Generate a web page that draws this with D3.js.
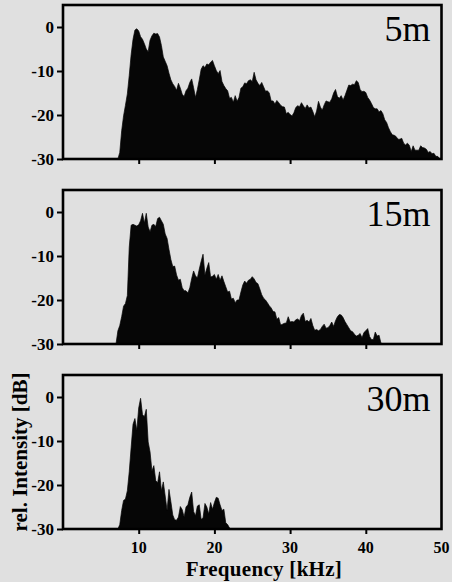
<!DOCTYPE html>
<html><head><meta charset="utf-8">
<script src="https://cdn.jsdelivr.net/npm/d3@7"></script>
<style>
html,body{margin:0;padding:0;background:#e0e0e0;}
svg{display:block;}
</style></head><body>
<svg id="chart" width="452" height="582"></svg>
<script>
// Frequency bins (kHz)
const freqs = [
 7,7.25,7.5,7.75, 8,8.25,8.5,8.75, 9,9.25,9.5,9.75, 10,10.25,10.5,10.75,
 11,11.25,11.5,11.75, 12,12.25,12.5,12.75, 13,13.25,13.5,13.75, 14,14.25,14.5,14.75,
 15,15.25,15.5,15.75, 16,16.25,16.5,16.75, 17,17.25,17.5,17.75, 18,18.25,18.5,18.75,
 19,19.25,19.5,19.75, 20,20.25,20.5,20.75, 21,21.25,21.5,21.75, 22,22.25,22.5,22.75,
 23,23.25,23.5,23.75, 24,24.25,24.5,24.75, 25,25.25,25.5,25.75, 26,26.25,26.5,26.75,
 27,27.25,27.5,27.75, 28,28.25,28.5,28.75, 29,29.25,29.5,29.75, 30,30.25,30.5,30.75,
 31,31.25,31.5,31.75, 32,32.25,32.5,32.75, 33,33.25,33.5,33.75, 34,34.25,34.5,34.75,
 35,35.25,35.5,35.75, 36,36.25,36.5,36.75, 37,37.25,37.5,37.75, 38,38.25,38.5,38.75,
 39,39.25,39.5,39.75, 40,40.25,40.5,40.75, 41,41.25,41.5,41.75, 42,42.25,42.5,42.75,
 43,43.25,43.5,43.75, 44,44.25,44.5,44.75, 45,45.25,45.5,45.75, 46,46.25,46.5,46.75,
 47,47.25,47.5,47.75, 48,48.25,48.5,48.75, 49,49.25,49.5,49.75, 50
];

// rel. intensity (dB) at 5 m
const db5m = [
 -30,-30,-28.5,-23.6, -20.2,-17.8,-15.2,-11.0, -6.3,-2.8,-0.7,-0.4, -0.9,-2.2,-2.8,-3.8,
 -5.0,-5.6,-3.0,-2.0, -1.4,-1.6,-1.5,-2.3, -4.2,-6.8,-7.8,-8.8, -10.5,-12.0,-12.9,-13.5,
 -14.4,-12.8,-13.9,-15.3, -15.8,-14.5,-13.9,-12.6, -11.8,-13.8,-16.0,-14.2, -12.0,-9.6,-8.8,-9.2,
 -8.4,-8.6,-8.0,-7.6, -8.8,-9.9,-10.6,-9.9, -12.4,-13.3,-14.0,-14.5, -16.2,-16.0,-17.1,-15.6,
 -16.9,-16.0,-13.9,-13.6, -12.7,-12.9,-12.2,-12.0, -12.4,-10.3,-12.0,-12.8, -13.3,-12.6,-13.6,-14.6,
 -14.5,-15.0,-16.8,-16.8, -17.5,-16.7,-17.2,-17.8, -18.1,-18.2,-19.7,-19.4, -19.9,-20.2,-19.5,-18.3,
 -17.9,-18.1,-17.2,-17.9, -18.5,-17.7,-18.4,-18.2, -19.2,-20.4,-19.1,-16.9, -18.2,-18.9,-17.7,-16.8,
 -17.0,-17.1,-16.3,-15.0, -14.2,-15.8,-16.2,-15.6, -16.6,-15.6,-14.4,-13.2, -13.3,-13.0,-13.1,-12.2,
 -12.6,-14.2,-14.7,-14.6, -14.9,-16.0,-16.6,-17.4, -18.3,-18.6,-18.6,-19.3, -19.0,-19.7,-21.1,-21.7,
 -22.9,-23.8,-24.5,-24.6, -24.9,-25.5,-25.5,-25.3, -26.4,-26.8,-26.4,-26.9, -28.3,-27.0,-28.0,-28.0,
 -28.0,-27.0,-27.4,-27.5, -27.8,-28.5,-28.3,-28.8, -28.7,-29.4,-29.4,-29.9, -30
];

// rel. intensity (dB) at 15 m
const db15m = [
 -30,-27.0,-25.8,-23.8, -21.4,-20.8,-19.0,-8.0, -3.0,-2.8,-3.0,-3.2, -2.9,-2.0,-0.3,-2.5,
 -0.3,-3.4,-4.5,-3.0, -2.8,-3.3,-1.5,-1.2, -2.0,-2.8,-5.0,-6.0, -8.5,-10.8,-12.4,-12.3,
 -14.3,-15.5,-15.3,-17.2, -17.9,-17.9,-18.4,-17.2, -15.1,-13.4,-14.5,-15.0, -13.0,-11.2,-9.6,-14.3,
 -12.8,-11.5,-14.8,-14.6, -14.2,-15.3,-14.2,-15.5, -14.5,-15.8,-17.0,-18.2, -18.0,-19.8,-19.6,-20.6,
 -20.0,-20.0,-18.2,-16.6, -15.7,-16.2,-15.5,-15.3, -14.7,-15.2,-16.0,-16.3, -17.5,-18.8,-19.6,-20.0,
 -20.6,-21.3,-21.8,-22.6, -22.7,-24.4,-24.0,-25.7, -25.5,-25.3,-25.2,-23.8, -25.0,-24.9,-25.0,-24.5,
 -24.3,-24.7,-23.5,-23.0, -24.9,-24.6,-25.0,-24.2, -25.8,-26.9,-26.7,-27.0, -26.7,-26.0,-25.5,-26.4,
 -26.3,-25.8,-25.0,-26.0, -24.7,-23.8,-23.3,-23.4, -24.0,-24.9,-25.6,-26.3, -27.0,-27.2,-27.8,-28.2,
 -28.0,-27.6,-28.6,-27.4, -27.0,-26.5,-28.3,-29.0, -29.0,-27.3,-28.2,-28.0, -29.8,-30
];

// rel. intensity (dB) at 30 m
const db30m = [
 -30,-30,-29.0,-25.8, -23.5,-23.2,-21.3,-17.0, -11.5,-6.2,-4.9,-7.6, -2.5,-0.3,-4.0,-4.5,
 -2.8,-10.2,-12.5,-16.8, -15.6,-19.0,-19.5,-17.0, -21.3,-19.3,-22.5,-25.8, -21.0,-23.8,-26.8,-27.9,
 -28.0,-27.3,-24.9,-25.6, -27.3,-25.0,-24.5,-22.8, -21.6,-26.0,-27.0,-24.8, -24.5,-27.8,-27.5,-24.2,
 -25.0,-26.6,-24.0,-25.5, -24.0,-22.8,-23.0,-24.5, -25.8,-25.5,-28.6,-29.0, -29.8,-30
];

const panelLabels = ["5m", "15m", "30m"];
const yTickValues = [0, -10, -20, -30];
const xTickValues = [10, 20, 30, 40];
const xTickLabels = [10, 20, 30, 40, 50];
const xTitle = "Frequency [kHz]";
const yTitle = "rel. Intensity [dB]";

const W = 452, H = 582;
const svg = d3.select("#chart");
svg.append("rect").attr("width", W).attr("height", H).attr("fill", "#e0e0e0");

const left = 63, right = 441.5, panelH = 154;
const tops = [5, 190, 375];
const x = d3.scaleLinear().domain([0, 50]).range([left, right]);
const seriesList = [db5m, db15m, db30m];
const serif = "'Liberation Serif', 'Times New Roman', serif";

seriesList.forEach((vals, k) => {
  const top = tops[k];
  const y = d3.scaleLinear().domain([-30, 5]).range([top + panelH, top]);
  const g = svg.append("g");
  const data = vals.map((v, i) => ({ f: freqs[i], v }));
  const area = d3.area().x(d => x(d.f)).y0(y(-30)).y1(d => y(d.v)).curve(d3.curveLinear);
  g.append("path").datum(data).attr("d", area)
    .attr("fill", "#060606").attr("stroke", "#060606").attr("stroke-width", 0.7)
    .attr("stroke-linejoin", "miter");

  // y axis
  const ya = g.append("g").attr("transform", `translate(${left},0)`)
    .call(d3.axisLeft(y).tickValues(yTickValues).tickSize(6).tickPadding(3).tickFormat(d => String(d)));
  ya.select(".domain").remove();
  ya.selectAll(".tick line").attr("stroke", "#000").attr("stroke-width", 2);
  ya.selectAll(".tick text").attr("font-family", serif).attr("font-weight", "bold")
    .attr("font-size", 17).attr("fill", "#000");

  // x axis ticks
  const xa = g.append("g").attr("transform", `translate(0,${top + panelH})`)
    .call(d3.axisBottom(x).tickValues(xTickValues).tickSize(5).tickFormat(""));
  xa.select(".domain").remove();
  xa.selectAll(".tick line").attr("stroke", "#000").attr("stroke-width", 2);

  // frame
  g.append("rect").attr("x", left).attr("y", top)
    .attr("width", right - left).attr("height", panelH)
    .attr("fill", "none").attr("stroke", "#000").attr("stroke-width", 2.6);

  // panel label
  g.append("text").attr("x", right - 11).attr("y", top + 36)
    .attr("text-anchor", "end").attr("font-family", serif)
    .attr("font-size", 36).attr("fill", "#000").text(panelLabels[k]);

  if (k === 2) {
    g.selectAll(".xlab").data(xTickLabels).enter().append("text")
      .attr("x", d => x(d)).attr("y", top + panelH + 24)
      .attr("text-anchor", "middle").attr("font-family", serif).attr("font-weight", "bold")
      .attr("font-size", 16).attr("fill", "#000").text(d => d);
  }
});

svg.append("text").attr("x", 264).attr("y", 576).attr("text-anchor", "middle")
  .attr("font-family", serif).attr("font-weight", "bold").attr("font-size", 21)
  .attr("letter-spacing", 0.3).attr("fill", "#000").text(xTitle);

svg.append("text").attr("transform", "translate(27,452) rotate(-90)")
  .attr("text-anchor", "middle").attr("font-family", serif).attr("font-weight", "bold")
  .attr("font-size", 21).attr("fill", "#000").text(yTitle);
</script>
</body></html>
